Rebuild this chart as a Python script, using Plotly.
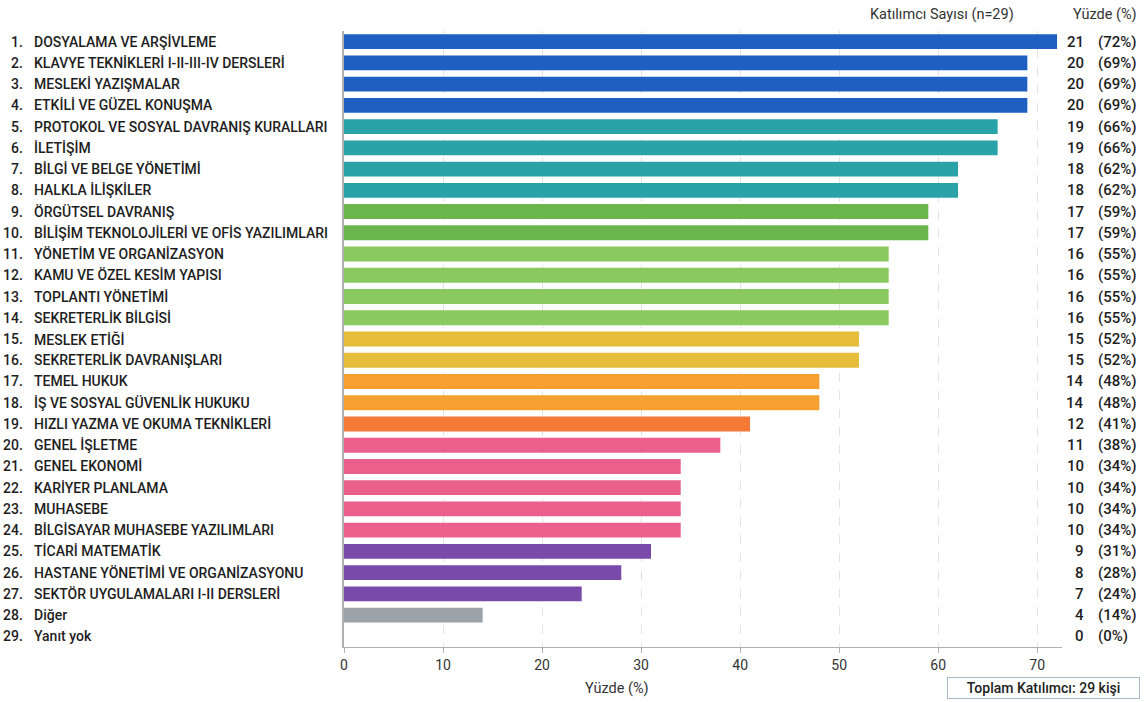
import plotly.graph_objects as go

categories = [
    "DOSYALAMA VE ARŞİVLEME",
    "KLAVYE TEKNİKLERİ I-II-III-IV DERSLERİ",
    "MESLEKİ YAZIŞMALAR",
    "ETKİLİ VE GÜZEL KONUŞMA",
    "PROTOKOL VE SOSYAL DAVRANIŞ KURALLARI",
    "İLETİŞİM",
    "BİLGİ VE BELGE YÖNETİMİ",
    "HALKLA İLİŞKİLER",
    "ÖRGÜTSEL DAVRANIŞ",
    "BİLİŞİM TEKNOLOJİLERİ VE OFİS YAZILIMLARI",
    "YÖNETİM VE ORGANİZASYON",
    "KAMU VE ÖZEL KESİM YAPISI",
    "TOPLANTI YÖNETİMİ",
    "SEKRETERLİK BİLGİSİ",
    "MESLEK ETİĞİ",
    "SEKRETERLİK DAVRANIŞLARI",
    "TEMEL HUKUK",
    "İŞ VE SOSYAL GÜVENLİK HUKUKU",
    "HIZLI YAZMA VE OKUMA TEKNİKLERİ",
    "GENEL İŞLETME",
    "GENEL EKONOMİ",
    "KARİYER PLANLAMA",
    "MUHASEBE",
    "BİLGİSAYAR MUHASEBE YAZILIMLARI",
    "TİCARİ MATEMATİK",
    "HASTANE YÖNETİMİ VE ORGANİZASYONU",
    "SEKTÖR UYGULAMALARI I-II DERSLERİ",
    "Diğer",
    "Yanıt yok",
]
counts = [21, 20, 20, 20, 19, 19, 18, 18, 17, 17, 16, 16, 16, 16, 15, 15, 14, 14,
          12, 11, 10, 10, 10, 10, 9, 8, 7, 4, 0]
percents = [72, 69, 69, 69, 66, 66, 62, 62, 59, 59, 55, 55, 55, 55, 52, 52, 48, 48,
            41, 38, 34, 34, 34, 34, 31, 28, 24, 14, 0]
colors = (["#1f5fc2"] * 4 + ["#29a3a8"] * 4 + ["#6ab64c"] * 2 + ["#8ac95f"] * 4 +
          ["#e6bd3a"] * 2 + ["#f5a030"] * 2 + ["#f47a36"] + ["#ea5f8c"] * 5 +
          ["#7a4aab"] * 3 + ["#9ba3a8"] + ["#9ba3a8"])

header_count = "Katılımcı Sayısı (n=29)"
header_pct = "Yüzde (%)"
x_title = "Yüzde (%)"
total_note = "Toplam Katılımcı: 29 kişi"

idx = list(range(1, len(categories) + 1))

L, R, T, B = 344, 85, 31, 55
W, H = 1147, 702

fig = go.Figure()
fig.add_trace(go.Bar(
    x=percents, y=idx, orientation="h",
    marker=dict(color=colors, line=dict(width=0)),
    width=0.7, hoverinfo="skip",
))

label_font = dict(family="Roboto", size=14, color="#1e1e1e", weight=500)
value_font = dict(family="Roboto", size=15, color="#1e1e1e", weight=500)
ann = []
for i, name, c, p in zip(idx, categories, counts, percents):
    ann.append(dict(x=0, xref="paper", y=i, yref="y", text=f"{i}.", showarrow=False,
                    xanchor="right", xshift=25 - L, font=label_font))
    ann.append(dict(x=0, xref="paper", y=i, yref="y", text=name, showarrow=False,
                    xanchor="left", xshift=32 - L, font=label_font))
    ann.append(dict(x=1, xref="paper", y=i, yref="y", text=str(c), showarrow=False,
                    xanchor="right", xshift=1086 - (W - R), font=value_font))
    ann.append(dict(x=1, xref="paper", y=i, yref="y", text=f"({p}%)", showarrow=False,
                    xanchor="left", xshift=1096 - (W - R), font=value_font))

hdr_font = dict(family="Roboto", size=14.5, color="#333333")
ann.append(dict(x=1, xref="paper", y=1, yref="paper", text=header_count, showarrow=False,
                xanchor="center", yanchor="middle", xshift=942 - (W - R), yshift=T - 14,
                font=hdr_font))
ann.append(dict(x=1, xref="paper", y=1, yref="paper", text=header_pct, showarrow=False,
                xanchor="center", yanchor="middle", xshift=1105 - (W - R), yshift=T - 14,
                font=hdr_font))
ann.append(dict(x=0, xref="paper", y=0, yref="paper", text=x_title, showarrow=False,
                xanchor="center", yanchor="middle", xshift=617 - L, yshift=-(688 - (H - B)),
                font=dict(family="Roboto", size=14.5, color="#333333")))
ann.append(dict(x=1, xref="paper", y=0, yref="paper", text=total_note, showarrow=False,
                xanchor="center", yanchor="top", xshift=1043 - (W - R), yshift=-(677 - (H - B)),
                font=dict(family="Roboto", size=14, color="#222222", weight=500),
                bordercolor="#a9b9cc", borderwidth=1, borderpad=2, bgcolor="#ffffff",
                width=187))

fig.update_layout(
    width=W, height=H,
    margin=dict(l=L, r=R, t=T, b=B),
    paper_bgcolor="white", plot_bgcolor="white",
    showlegend=False,
    annotations=ann,
    xaxis=dict(range=[0, 72.5], dtick=10, tick0=0, showgrid=True,
               gridcolor="#e3e3e3", griddash="dash", gridwidth=1,
               showline=True, linecolor="#b0b0b0", linewidth=1,
               ticks="outside", ticklen=5, tickcolor="#b0b0b0",
               tickfont=dict(family="Roboto", size=14, color="#333333"),
               zeroline=False, fixedrange=True),
    yaxis=dict(range=[29.5, 0.5], showticklabels=False, showgrid=False,
               showline=True, linecolor="#b0b0b0", linewidth=1.5,
               zeroline=False, ticks="", fixedrange=True),
)

fig.write_html("out.html", config={"displayModeBar": False})
